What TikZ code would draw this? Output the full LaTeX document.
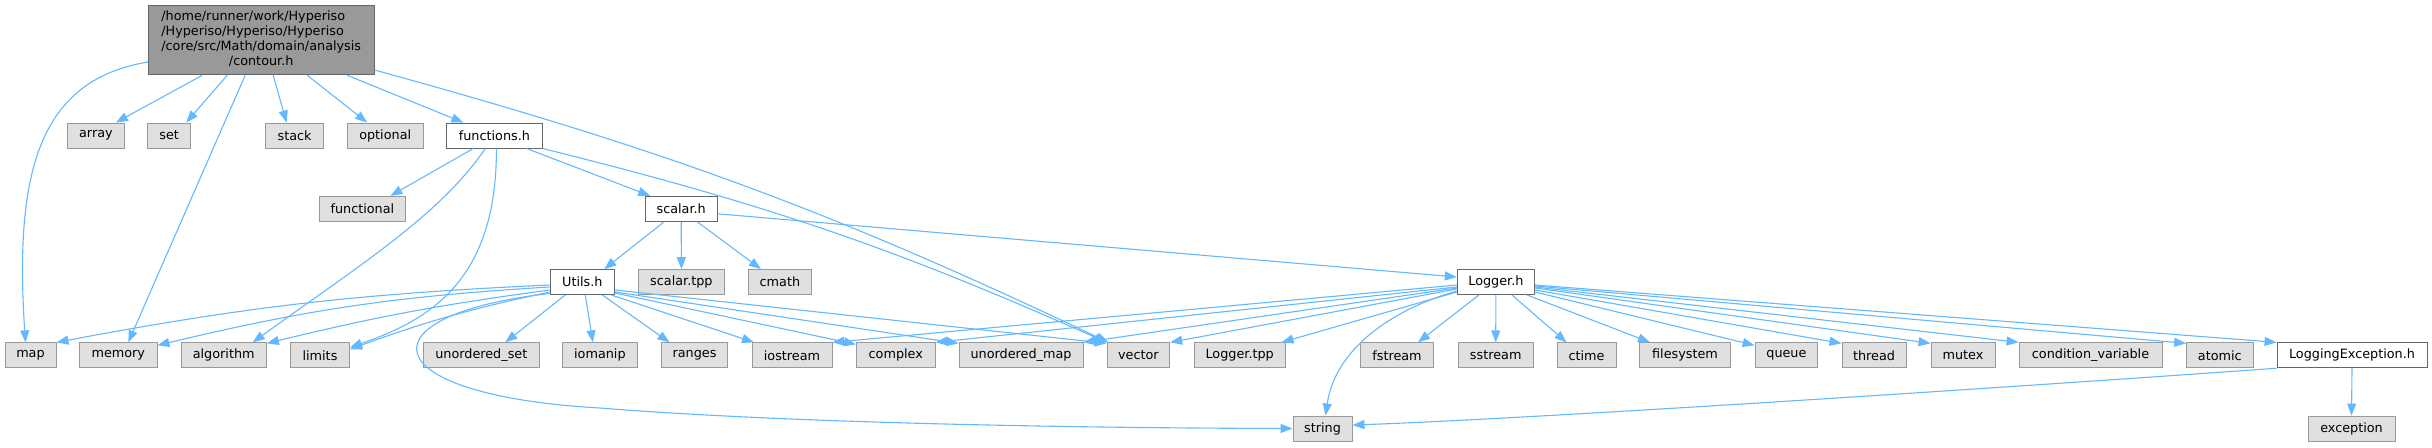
\documentclass[tikz,border=0pt]{standalone}
\usepackage{fontspec}
\setmainfont{DejaVu Sans}
\usepackage{xcolor}
\usetikzlibrary{arrows.meta}

\definecolor{edgeblue}{HTML}{63B8FF}
\newcommand{\graphfont}{\fontsize{12.8}{15}\selectfont}

\tikzset{
    hdr/.style={draw=black!60, fill=white, line width=0.9pt, inner sep=0pt,
        minimum height=25pt, font=\graphfont},
    syshdr/.style={hdr, draw=black!40, fill=black!12},
    roothdr/.style={hdr, fill=black!40},
    incl/.style={draw=edgeblue, line width=1.1pt, -{Triangle[length=12pt,width=9pt]}}
}

\begin{document}
\begin{tikzpicture}[x=1pt, y=-1pt]
    \useasboundingbox (0,0) rectangle (2432,447);

    % Root file
    \node[roothdr, minimum width=225.7pt, minimum height=69.7pt] (contour) at (261.2,40) {\begin{tabular}{@{}l@{}}/home/runner/work/Hyperiso\\/Hyperiso/Hyperiso/Hyperiso\\/core/src/Math/domain/analysis\\\multicolumn{1}{@{}c@{}}{/contour.h}\end{tabular}};

    % Second row
    \node[syshdr, minimum width=56.7pt] (array) at (95.9,135.5) {array};
    \node[syshdr, minimum width=43.3pt] (set) at (169.2,135.5) {set};
    \node[syshdr, minimum width=57.6pt] (stack) at (294.6,135.5) {stack};
    \node[syshdr, minimum width=75.6pt] (optional) at (385.2,135.5) {optional};
    \node[hdr, minimum width=95.2pt] (functions) at (494.4,135.5) {functions.h};

    % Third row
    \node[syshdr, minimum width=86.7pt] (functional) at (362.4,208.8) {functional};
    \node[hdr, minimum width=72pt] (scalar) at (681.2,208.8) {scalar.h};

    % Fourth row
    \node[hdr, minimum width=64.5pt] (utils) at (582.3,282) {Utils.h};
    \node[syshdr, minimum width=86.1pt] (scalartpp) at (681.4,282) {scalar.tpp};
    \node[syshdr, minimum width=62.8pt] (cmath) at (779.9,282) {cmath};
    \node[hdr, minimum width=77.3pt] (logger) at (1495.9,282) {Logger.h};

    % Fifth row
    \node[syshdr, minimum width=51pt] (map) at (30.5,355.3) {map};
    \node[syshdr, minimum width=77.4pt] (memory) at (118.3,355.3) {memory};
    \node[syshdr, minimum width=85.4pt] (algorithm) at (223.7,355.3) {algorithm};
    \node[syshdr, minimum width=59pt] (limits) at (320,355.3) {limits};
    \node[syshdr, minimum width=115.3pt] (uset) at (481.3,355.3) {unordered\_set};
    \node[syshdr, minimum width=74.5pt] (iomanip) at (599.9,355.3) {iomanip};
    \node[syshdr, minimum width=66.6pt] (ranges) at (694.5,355.3) {ranges};
    \node[syshdr, minimum width=80pt] (iostream) at (792,355.3) {iostream};
    \node[syshdr, minimum width=78.8pt] (complex) at (895.8,355.3) {complex};
    \node[syshdr, minimum width=124pt] (umap) at (1021,355.3) {unordered\_map};
    \node[syshdr, minimum width=62.8pt] (vector) at (1138.4,355.3) {vector};
    \node[syshdr, minimum width=90.7pt] (loggertpp) at (1239.7,355.3) {Logger.tpp};
    \node[syshdr, minimum width=73.5pt] (fstream) at (1397,355.3) {fstream};
    \node[syshdr, minimum width=74.7pt] (sstream) at (1495.7,355.3) {sstream};
    \node[syshdr, minimum width=59pt] (ctime) at (1586.5,355.3) {ctime};
    \node[syshdr, minimum width=90.7pt] (filesystem) at (1685,355.3) {filesystem};
    \node[syshdr, minimum width=62.7pt] (queue) at (1786.4,355.3) {queue};
    \node[syshdr, minimum width=64pt] (thread) at (1874,355.3) {thread};
    \node[syshdr, minimum width=64pt] (mutex) at (1963,355.3) {mutex};
    \node[syshdr, minimum width=143pt] (condvar) at (2090.5,355.3) {condition\_variable};
    \node[syshdr, minimum width=66.5pt] (atomic) at (2219.8,355.3) {atomic};
    \node[hdr, minimum width=150pt] (logexc) at (2352,355.3) {LoggingException.h};

    % Bottom row
    \node[syshdr, minimum width=59pt] (string) at (1322.5,428.5) {string};
    \node[syshdr, minimum width=87pt] (exception) at (2351.5,428.5) {exception};

    % contour.h includes
    \draw[incl] ([yshift=-22pt]contour.west) .. controls (40,80) and (14,170) .. ([xshift=-5pt]map.north);
    \draw[incl] ([xshift=-59pt]contour.south) -- ([xshift=20pt]array.north);
    \draw[incl] ([xshift=-34pt]contour.south) -- ([xshift=17pt]set.north);
    \draw[incl] ([xshift=-16pt]contour.south) -- ([xshift=10pt]memory.north);
    \draw[incl] ([xshift=12pt]contour.south) -- ([xshift=-8pt]stack.north);
    \draw[incl] ([xshift=46pt]contour.south) -- ([xshift=-18pt]optional.north);
    \draw[incl] ([xshift=86pt]contour.south) -- ([xshift=-31pt]functions.north);
    \draw[incl] ([yshift=-30pt]contour.east) to[bend left=5] ([xshift=-30pt]vector.north);

    % functions.h includes
    \draw[incl] ([xshift=-21pt]functions.south) -- ([xshift=28pt]functional.north);
    \draw[incl] ([xshift=-9pt]functions.south) .. controls (440,215) and (360,265) .. ([xshift=29pt]algorithm.north);
    \draw[incl] ([xshift=2pt]functions.south) .. controls (497,280) and (430,320) .. ([yshift=8pt]limits.east);
    \draw[incl] ([xshift=32pt]functions.south) -- ([xshift=-31pt]scalar.north);
    \draw[incl] (functions.south east) to[bend left=5] ([xshift=-32pt]vector.north);

    % scalar.h includes
    \draw[incl] ([xshift=-17pt]scalar.south) -- ([xshift=22pt]utils.north);
    \draw[incl] (scalar.south) -- (scalartpp.north);
    \draw[incl] ([xshift=16pt]scalar.south) -- ([xshift=-19pt]cmath.north);
    \draw[incl] ([yshift=-5pt]scalar.east) -- ([yshift=5pt]logger.west);

    % Utils.h includes
    \draw[incl] ([yshift=-3pt]utils.west) to[bend right=4] (map.north east);
    \draw[incl] ([yshift=-5pt]utils.west) to[bend right=5] ([yshift=-3pt]memory.north east);
    \draw[incl] ([yshift=-8pt]utils.west) to[bend right=3] ([yshift=-1pt]algorithm.north east);
    \draw[incl] ([yshift=-10pt]utils.west) to[bend right=4] ([yshift=6pt]limits.east);
    \draw[incl] ([yshift=-11.5pt]utils.west) .. controls (360,315) and (370,395) .. (600,408) .. controls (800,424) and (1100,428) .. (string.west);
    \draw[incl] ([xshift=-17pt]utils.south) -- ([xshift=24pt]uset.north);
    \draw[incl] ([xshift=3pt]utils.south) -- ([xshift=-7pt]iomanip.north);
    \draw[incl] ([xshift=20pt]utils.south) -- ([xshift=-25pt]ranges.north);
    \draw[incl] ([xshift=29pt]utils.south) -- ([xshift=-38pt]iostream.north);
    \draw[incl] ([yshift=-11pt]utils.east) -- ([yshift=-2pt]complex.north west);
    \draw[incl] ([yshift=-10pt]utils.east) -- ([yshift=-1pt]umap.north west);
    \draw[incl] ([yshift=-8pt]utils.east) -- ([yshift=-1pt]vector.north west);

    % Logger.h includes
    \draw[incl] ([yshift=-3pt]logger.west) -- (iostream.north east);
    \draw[incl] ([yshift=-5pt]logger.west) -- (complex.north east);
    \draw[incl] ([yshift=-6pt]logger.west) -- (umap.north east);
    \draw[incl] ([yshift=-7pt]logger.west) -- (vector.north east);
    \draw[incl] ([yshift=-10pt]logger.west) -- ([xshift=-4pt]loggertpp.north east);
    \draw[incl] ([yshift=-9pt]logger.west) .. controls (1390,310) and (1335,350) .. ([xshift=3pt]string.north);
    \draw[incl] ([xshift=-17pt]logger.south) -- ([xshift=21pt]fstream.north);
    \draw[incl] (logger.south) -- (sstream.north);
    \draw[incl] ([xshift=16pt]logger.south) -- ([xshift=-20pt]ctime.north);
    \draw[incl] ([xshift=31pt]logger.south) -- ([xshift=-35pt]filesystem.north);
    \draw[incl] ([yshift=-10pt]logger.east) -- ([yshift=-3pt]queue.north west);
    \draw[incl] ([yshift=-8pt]logger.east) -- ([yshift=-1pt]thread.north west);
    \draw[incl] ([yshift=-6pt]logger.east) -- ([yshift=-1pt]mutex.north west);
    \draw[incl] ([yshift=-5pt]logger.east) -- (condvar.north west);
    \draw[incl] ([yshift=-4pt]logger.east) -- ([yshift=-1pt]atomic.north west);
    \draw[incl] ([yshift=-3pt]logger.east) -- (logexc.north west);

    % LoggingException.h includes
    \draw[incl] (logexc.south west) .. controls (1900,395) and (1500,420) .. ([yshift=3.5pt]string.east);
    \draw[incl] (logexc.south) -- (exception.north);
\end{tikzpicture}
\end{document}
